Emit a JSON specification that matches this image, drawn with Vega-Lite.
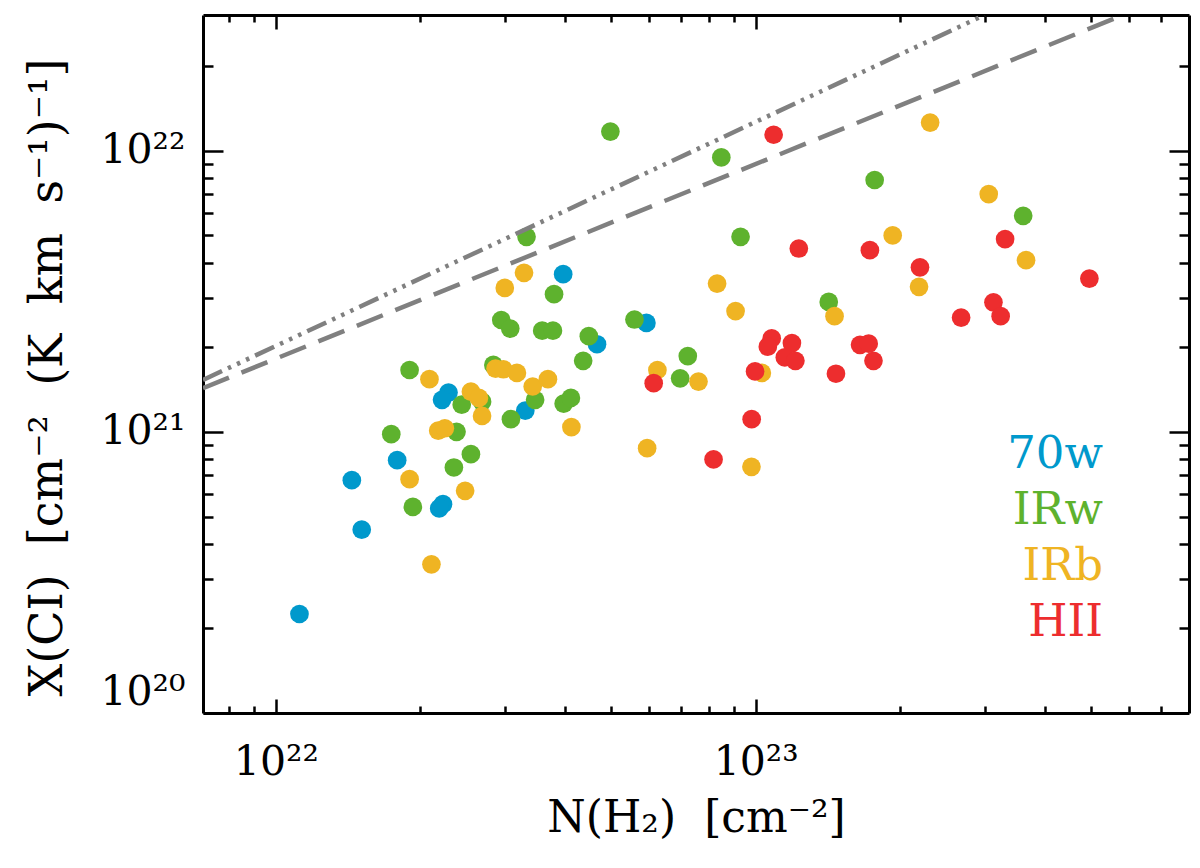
{
  "$schema": "https://vega.github.io/schema/vega-lite/v6.json",
  "width": 986,
  "height": 698,
  "autosize": {"type": "none"},
  "padding": {"left": 203, "top": 15, "right": 11, "bottom": 155},
  "background": "white",
  "datasets": {
    "sources": [
      {"cls": "70w", "N": 5.92e22, "X": 2.44e21},
      {"cls": "70w", "N": 3.97e22, "X": 3.64e21},
      {"cls": "70w", "N": 4.67e22, "X": 2.05e21},
      {"cls": "70w", "N": 2.29e22, "X": 1.38e21},
      {"cls": "70w", "N": 2.22e22, "X": 1.30e21},
      {"cls": "70w", "N": 3.31e22, "X": 1.19e21},
      {"cls": "70w", "N": 1.79e22, "X": 7.93e20},
      {"cls": "70w", "N": 1.44e22, "X": 6.73e20},
      {"cls": "70w", "N": 2.23e22, "X": 5.53e20},
      {"cls": "70w", "N": 2.19e22, "X": 5.34e20},
      {"cls": "70w", "N": 1.51e22, "X": 4.49e20},
      {"cls": "70w", "N": 1.12e22, "X": 2.25e20},
      {"cls": "IRw", "N": 4.98e22, "X": 1.17e22},
      {"cls": "IRw", "N": 3.33e22, "X": 4.94e21},
      {"cls": "IRw", "N": 3.80e22, "X": 3.09e21},
      {"cls": "IRw", "N": 2.95e22, "X": 2.50e21},
      {"cls": "IRw", "N": 3.08e22, "X": 2.33e21},
      {"cls": "IRw", "N": 3.59e22, "X": 2.29e21},
      {"cls": "IRw", "N": 3.78e22, "X": 2.29e21},
      {"cls": "IRw", "N": 5.59e22, "X": 2.51e21},
      {"cls": "IRw", "N": 4.49e22, "X": 2.19e21},
      {"cls": "IRw", "N": 4.37e22, "X": 1.79e21},
      {"cls": "IRw", "N": 1.90e22, "X": 1.66e21},
      {"cls": "IRw", "N": 2.84e22, "X": 1.73e21},
      {"cls": "IRw", "N": 2.44e22, "X": 1.25e21},
      {"cls": "IRw", "N": 2.69e22, "X": 1.28e21},
      {"cls": "IRw", "N": 3.47e22, "X": 1.30e21},
      {"cls": "IRw", "N": 3.98e22, "X": 1.26e21},
      {"cls": "IRw", "N": 4.12e22, "X": 1.32e21},
      {"cls": "IRw", "N": 3.09e22, "X": 1.11e21},
      {"cls": "IRw", "N": 1.74e22, "X": 9.81e20},
      {"cls": "IRw", "N": 2.38e22, "X": 1.00e21},
      {"cls": "IRw", "N": 2.55e22, "X": 8.33e20},
      {"cls": "IRw", "N": 2.35e22, "X": 7.47e20},
      {"cls": "IRw", "N": 1.93e22, "X": 5.41e20},
      {"cls": "IRw", "N": 8.48e22, "X": 9.47e21},
      {"cls": "IRw", "N": 1.77e23, "X": 7.87e21},
      {"cls": "IRw", "N": 3.61e23, "X": 5.87e21},
      {"cls": "IRw", "N": 9.30e22, "X": 4.94e21},
      {"cls": "IRw", "N": 1.42e23, "X": 2.90e21},
      {"cls": "IRw", "N": 7.22e22, "X": 1.86e21},
      {"cls": "IRw", "N": 6.96e22, "X": 1.55e21},
      {"cls": "IRb", "N": 3.29e22, "X": 3.68e21},
      {"cls": "IRb", "N": 3.00e22, "X": 3.25e21},
      {"cls": "IRb", "N": 2.09e22, "X": 1.54e21},
      {"cls": "IRb", "N": 2.87e22, "X": 1.68e21},
      {"cls": "IRb", "N": 2.98e22, "X": 1.67e21},
      {"cls": "IRb", "N": 3.18e22, "X": 1.62e21},
      {"cls": "IRb", "N": 3.43e22, "X": 1.45e21},
      {"cls": "IRb", "N": 3.69e22, "X": 1.54e21},
      {"cls": "IRb", "N": 2.55e22, "X": 1.39e21},
      {"cls": "IRb", "N": 2.65e22, "X": 1.32e21},
      {"cls": "IRb", "N": 2.69e22, "X": 1.14e21},
      {"cls": "IRb", "N": 4.13e22, "X": 1.04e21},
      {"cls": "IRb", "N": 2.18e22, "X": 1.01e21},
      {"cls": "IRb", "N": 2.25e22, "X": 1.03e21},
      {"cls": "IRb", "N": 1.90e22, "X": 6.79e20},
      {"cls": "IRb", "N": 2.48e22, "X": 6.17e20},
      {"cls": "IRb", "N": 2.11e22, "X": 3.38e20},
      {"cls": "IRb", "N": 5.94e22, "X": 8.75e20},
      {"cls": "IRb", "N": 6.24e22, "X": 1.66e21},
      {"cls": "IRb", "N": 2.31e23, "X": 1.26e22},
      {"cls": "IRb", "N": 3.06e23, "X": 7.01e21},
      {"cls": "IRb", "N": 1.93e23, "X": 5.00e21},
      {"cls": "IRb", "N": 3.66e23, "X": 4.08e21},
      {"cls": "IRb", "N": 2.19e23, "X": 3.28e21},
      {"cls": "IRb", "N": 8.31e22, "X": 3.37e21},
      {"cls": "IRb", "N": 9.08e22, "X": 2.69e21},
      {"cls": "IRb", "N": 1.46e23, "X": 2.58e21},
      {"cls": "IRb", "N": 7.60e22, "X": 1.51e21},
      {"cls": "IRb", "N": 1.03e23, "X": 1.62e21},
      {"cls": "IRb", "N": 9.80e22, "X": 7.51e20},
      {"cls": "HII", "N": 1.09e23, "X": 1.14e22},
      {"cls": "HII", "N": 3.31e23, "X": 4.85e21},
      {"cls": "HII", "N": 1.23e23, "X": 4.49e21},
      {"cls": "HII", "N": 1.73e23, "X": 4.43e21},
      {"cls": "HII", "N": 2.20e23, "X": 3.85e21},
      {"cls": "HII", "N": 4.96e23, "X": 3.51e21},
      {"cls": "HII", "N": 2.68e23, "X": 2.55e21},
      {"cls": "HII", "N": 3.13e23, "X": 2.89e21},
      {"cls": "HII", "N": 3.24e23, "X": 2.58e21},
      {"cls": "HII", "N": 6.13e22, "X": 1.49e21},
      {"cls": "HII", "N": 1.08e23, "X": 2.15e21},
      {"cls": "HII", "N": 1.06e23, "X": 2.01e21},
      {"cls": "HII", "N": 1.19e23, "X": 2.07e21},
      {"cls": "HII", "N": 1.15e23, "X": 1.84e21},
      {"cls": "HII", "N": 1.21e23, "X": 1.79e21},
      {"cls": "HII", "N": 1.65e23, "X": 2.04e21},
      {"cls": "HII", "N": 1.72e23, "X": 2.06e21},
      {"cls": "HII", "N": 1.76e23, "X": 1.79e21},
      {"cls": "HII", "N": 9.97e22, "X": 1.64e21},
      {"cls": "HII", "N": 1.47e23, "X": 1.61e21},
      {"cls": "HII", "N": 9.81e22, "X": 1.11e21},
      {"cls": "HII", "N": 8.17e22, "X": 7.98e20}
    ],
    "models": [
      {"curve": "dash-dot", "N": 7.05e21, "X": 1.53e21},
      {"curve": "dash-dot", "N": 3.0e23, "X": 3.04e22},
      {"curve": "dashed", "N": 7.05e21, "X": 1.43e21},
      {"curve": "dashed", "N": 5.83e23, "X": 3.04e22}
    ]
  },
  "layer": [
    {
      "data": {"name": "sources"},
      "mark": {"type": "circle", "size": 350, "opacity": 1},
      "encoding": {
        "x": {
          "field": "N",
          "type": "quantitative",
          "scale": {"type": "log", "domain": [7.05e21, 8e23], "nice": false},
          "axis": {
            "orient": "bottom",
            "values": [8e21, 9e21, 1e22, 2e22, 3e22, 4e22, 5e22, 6e22, 7e22, 8e22, 9e22, 1e23, 2e23, 3e23, 4e23, 5e23, 6e23, 7e23],
            "labelExpr": "abs(log(datum.value)/LN10 - round(log(datum.value)/LN10)) < 0.001 ? '10' + ['²⁰','²¹','²²','²³'][round(log(datum.value)/LN10) - 20] : ''",
            "tickSize": {"condition": {"test": "abs(log(datum.value)/LN10 - round(log(datum.value)/LN10)) < 0.001", "value": -14}, "value": -7},
            "labelPadding": 43,
            "labelFontSize": 41,
            "labelFlush": false,
            "labelOverlap": false,
            "labelBound": false,
            "title": "N(H₂)\u00a0\u00a0[cm⁻²]",
            "titleFontSize": 44,
            "titlePadding": 7
          }
        },
        "y": {
          "field": "X",
          "type": "quantitative",
          "scale": {"type": "log", "domain": [1e20, 3.04e22], "nice": false},
          "axis": {
            "orient": "left",
            "values": [1e20, 2e20, 3e20, 4e20, 5e20, 6e20, 7e20, 8e20, 9e20, 1e21, 2e21, 3e21, 4e21, 5e21, 6e21, 7e21, 8e21, 9e21, 1e22, 2e22],
            "labelExpr": "abs(log(datum.value)/LN10 - round(log(datum.value)/LN10)) < 0.001 ? '10' + ['²⁰','²¹','²²','²³'][round(log(datum.value)/LN10) - 20] : ''",
            "tickSize": {"condition": {"test": "abs(log(datum.value)/LN10 - round(log(datum.value)/LN10)) < 0.001", "value": -20}, "value": -10},
            "labelPadding": 38,
            "labelFontSize": 41,
            "labelFlush": 2,
            "labelOverlap": false,
            "labelBound": false,
            "title": "X(CI)\u00a0\u00a0[cm⁻²\u00a0\u00a0(K\u00a0\u00a0km\u00a0\u00a0s⁻¹)⁻¹]",
            "titleFontSize": 46,
            "titlePadding": 28,
            "titleY": 362
          }
        },
        "color": {
          "field": "cls",
          "type": "nominal",
          "scale": {"domain": ["70w", "IRw", "IRb", "HII"], "range": ["#0099CC", "#5EB22E", "#EFB423", "#ED2D2E"]},
          "legend": {
            "orient": "none",
            "legendX": 855,
            "legendY": 416,
            "title": null,
            "padding": 0,
            "symbolSize": 0,
            "symbolOpacity": 0,
            "symbolStrokeWidth": 0,
            "labelFont": "DejaVu Serif",
            "labelFontSize": 45,
            "labelAlign": "right",
            "labelOffset": 0,
            "labelLimit": 0,
            "rowPadding": 10,
            "labelColor": {"expr": "datum.value == '70w' ? '#0099CC' : datum.value == 'IRw' ? '#5EB22E' : datum.value == 'IRb' ? '#EFB423' : '#ED2D2E'"}
          }
        }
      }
    },
    {
      "data": {"name": "models"},
      "mark": {"type": "line", "strokeWidth": 4.5, "color": "#808080", "clip": true, "strokeCap": "butt"},
      "encoding": {
        "x": {
          "field": "N",
          "type": "quantitative",
          "scale": {"type": "log", "domain": [7.05e21, 8e23], "nice": false},
          "axis": {
            "orient": "top",
            "values": [8e21, 9e21, 1e22, 2e22, 3e22, 4e22, 5e22, 6e22, 7e22, 8e22, 9e22, 1e23, 2e23, 3e23, 4e23, 5e23, 6e23, 7e23],
            "labels": false,
            "title": null,
            "tickSize": {"condition": {"test": "abs(log(datum.value)/LN10 - round(log(datum.value)/LN10)) < 0.001", "value": -14}, "value": -7}
          }
        },
        "y": {
          "field": "X",
          "type": "quantitative",
          "scale": {"type": "log", "domain": [1e20, 3.04e22], "nice": false},
          "axis": {
            "orient": "right",
            "values": [2e20, 3e20, 4e20, 5e20, 6e20, 7e20, 8e20, 9e20, 1e21, 2e21, 3e21, 4e21, 5e21, 6e21, 7e21, 8e21, 9e21, 1e22, 2e22],
            "labels": false,
            "title": null,
            "tickSize": {"condition": {"test": "abs(log(datum.value)/LN10 - round(log(datum.value)/LN10)) < 0.001", "value": -20}, "value": -10}
          }
        },
        "strokeDash": {
          "field": "curve",
          "type": "nominal",
          "scale": {"domain": ["dash-dot", "dashed"], "range": [[21, 6.5, 3.5, 6.5, 3.5, 6.5, 3.5, 6.5], [28, 13.5]]},
          "legend": null
        }
      }
    }
  ],
  "resolve": {"axis": {"x": "independent", "y": "independent"}},
  "config": {
    "view": {"stroke": null},
    "axis": {
      "grid": false,
      "domainColor": "black",
      "domainWidth": 3,
      "tickColor": "black",
      "tickWidth": 2.5,
      "labelColor": "black",
      "titleColor": "black",
      "labelFont": "DejaVu Serif",
      "titleFont": "DejaVu Serif",
      "titleFontWeight": "normal"
    }
  }
}
